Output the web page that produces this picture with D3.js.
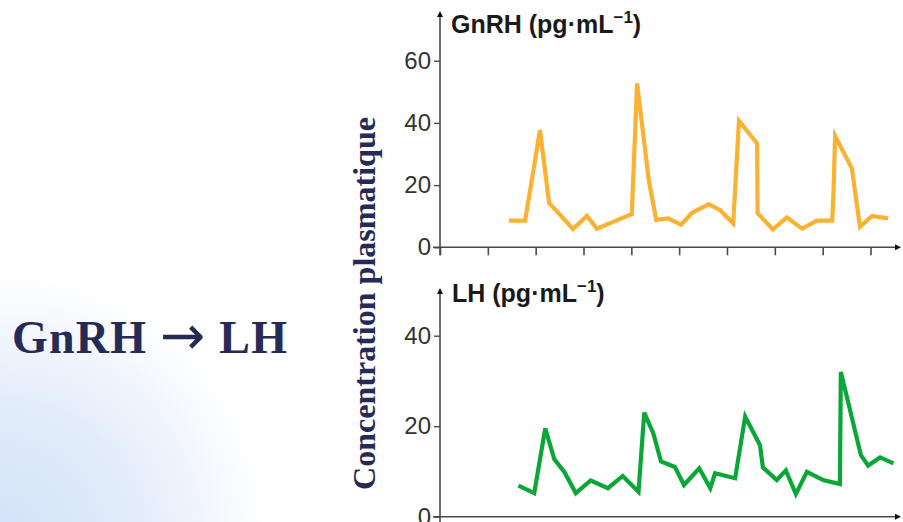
<!DOCTYPE html>
<html>
<head>
<meta charset="utf-8">
<script src="https://cdn.jsdelivr.net/npm/d3@7"></script>
<style>
  html, body { margin: 0; padding: 0; background: #fff; }
  svg { display: block; }
</style>
</head>
<body>
<svg id="chart" width="903" height="522"></svg>
<script>
// ---- data (time in x-tick units) ----
const xTicks = [0, 1, 2, 3, 4, 5, 6, 7, 8, 9];
const gnrhTicks = [0, 20, 40, 60];
const lhTicks = [0, 20, 40];

const gnrhTime = [1.44, 1.78, 2.09, 2.28, 2.78, 3.07, 3.28, 3.72, 4.01, 4.12, 4.37, 4.52, 4.77, 5.04, 5.27, 5.62, 5.85, 6.13, 6.25, 6.63, 6.64, 6.96, 7.25, 7.57, 7.88, 8.20, 8.23, 8.26, 8.61, 8.78, 9.03, 9.37];
const gnrhValues = [8.6, 8.6, 37.7, 14.3, 5.9, 10.1, 6.0, 8.8, 10.7, 52.7, 21.0, 8.8, 9.3, 7.3, 11.1, 13.9, 12.0, 7.7, 40.7, 33.4, 10.9, 5.8, 9.6, 6.0, 8.6, 8.6, 19.5, 35.8, 25.4, 6.6, 10.1, 9.3];

const lhTime = [1.64, 1.97, 2.20, 2.39, 2.60, 2.84, 3.15, 3.51, 3.82, 4.15, 4.27, 4.46, 4.62, 4.91, 5.10, 5.42, 5.65, 5.75, 6.17, 6.38, 6.69, 6.75, 7.04, 7.23, 7.44, 7.67, 8.01, 8.36, 8.38, 8.80, 8.95, 9.20, 9.48];
const lhValues = [6.85, 5.2, 19.5, 12.7, 9.9, 5.2, 8.0, 6.3, 9.0, 5.5, 23.0, 18.4, 12.2, 11.0, 7.0, 10.7, 6.3, 9.6, 8.5, 22.1, 15.8, 10.9, 8.1, 10.2, 5.0, 9.9, 8.1, 7.2, 32.0, 13.6, 11.3, 13.1, 11.8];

const svg = d3.select("#chart");

// background gradient bottom-left
const defs = svg.append("defs");
const rg = defs.append("radialGradient").attr("id", "bg")
  .attr("gradientUnits", "userSpaceOnUse")
  .attr("cx", 0).attr("cy", 540).attr("r", 270);
rg.append("stop").attr("offset", "0%").attr("stop-color", "#d2e2f8");
rg.append("stop").attr("offset", "50%").attr("stop-color", "#e2ecfa");
rg.append("stop").attr("offset", "100%").attr("stop-color", "#ffffff");
svg.append("rect").attr("width", 903).attr("height", 522).attr("fill", "#fff");
svg.append("rect").attr("width", 903).attr("height", 522).attr("fill", "url(#bg)");

defs.append("marker").attr("id", "arr")
  .attr("viewBox", "0 0 10 10").attr("refX", 0).attr("refY", 5)
  .attr("markerWidth", 7).attr("markerHeight", 6)
  .attr("markerUnits", "userSpaceOnUse")
  .attr("orient", "auto")
  .append("path").attr("d", "M0,0 L10,5 L0,10 Z").attr("fill", "#111");

// left texts
const lt = svg.append("text")
  .attr("x", 12).attr("y", 353)
  .attr("font-family", "Liberation Serif, Times New Roman, serif")
  .attr("font-weight", "bold").attr("font-size", 46)
  .attr("fill", "#262a56")
  .attr("textLength", 275).attr("lengthAdjust", "spacing");
lt.append("tspan").text("GnRH ");
lt.append("tspan")
  .attr("font-family", "DejaVu Sans, sans-serif")
  .attr("font-weight", "normal").attr("font-size", 54)
  .attr("dy", 1)
  .text("\u2192");
lt.append("tspan").attr("dy", -1).text(" LH");

svg.append("text")
  .attr("transform", "translate(375,303.5) rotate(-90)")
  .attr("text-anchor", "middle")
  .attr("font-family", "Liberation Serif, Times New Roman, serif")
  .attr("font-weight", "bold").attr("font-size", 31)
  .attr("fill", "#262a56")
  .attr("textLength", 373).attr("lengthAdjust", "spacingAndGlyphs")
  .text("Concentration plasmatique");

const x = d3.scaleLinear().domain([0, 9]).range([440, 870.5]);
const axisColor = "#4a4a4a";

function panel(opts) {
  const y = d3.scaleLinear().domain(opts.domain).range(opts.range);
  const g = svg.append("g");
  // y axis line with arrow
  g.append("line")
    .attr("x1", 440).attr("x2", 440)
    .attr("y1", opts.range[0] + (opts.below || 0)).attr("y2", opts.axisTop + 7)
    .attr("stroke", axisColor).attr("stroke-width", 1.6)
    .attr("marker-end", "url(#arr)");
  // x axis line with arrow
  g.append("line")
    .attr("x1", 433).attr("x2", 895)
    .attr("y1", opts.range[0]).attr("y2", opts.range[0])
    .attr("stroke", axisColor).attr("stroke-width", 1.6)
    .attr("marker-end", "url(#arr)");
  // y ticks
  const ya = d3.axisLeft(y).tickValues(opts.ticks).tickSize(6).tickPadding(3);
  const yg = g.append("g").attr("transform", "translate(440,0)").call(ya);
  yg.select(".domain").remove();
  yg.selectAll(".tick line").attr("stroke", axisColor).attr("stroke-width", 1.4);
  yg.selectAll(".tick text")
    .attr("font-family", "Liberation Sans, Arial, sans-serif")
    .attr("font-size", 24).attr("fill", "#333");
  // x ticks
  if (opts.xticks) {
    const xa = d3.axisBottom(x).tickValues(xTicks).tickSize(8).tickFormat("");
    const xg = g.append("g").attr("transform", `translate(0,${opts.range[0]})`).call(xa);
    xg.select(".domain").remove();
    xg.selectAll(".tick line").attr("stroke", axisColor).attr("stroke-width", 1.6);
  }
  // title
  const t = g.append("text")
    .attr("x", opts.titleX).attr("y", opts.titleY)
    .attr("font-family", "Liberation Sans, Arial, sans-serif")
    .attr("font-weight", "bold").attr("font-size", 25)
    .attr("fill", "#1a1a1a");
  t.append("tspan").text(opts.title + " (pg\u00B7mL");
  t.append("tspan").attr("dy", -10).attr("font-size", 17).text("\u22121");
  t.append("tspan").attr("dy", 10).text(")");
  // line
  const line = d3.line().x(d => x(d[0])).y(d => y(d[1]));
  g.append("path")
    .datum(d3.zip(opts.time, opts.values))
    .attr("d", line)
    .attr("fill", "none")
    .attr("stroke", opts.color)
    .attr("stroke-width", 4.2)
    .attr("stroke-linejoin", "miter")
    .attr("stroke-miterlimit", 4);
}

panel({
  domain: [0, 60], range: [247.3, 60.7], ticks: gnrhTicks, axisTop: 10,
  below: 8, xticks: true, title: "GnRH", titleX: 451, titleY: 33,
  time: gnrhTime, values: gnrhValues, color: "#fbb131"
});
panel({
  domain: [0, 40], range: [516.7, 335.7], ticks: lhTicks, axisTop: 287,
  below: 8, xticks: false, title: "LH", titleX: 452, titleY: 302,
  time: lhTime, values: lhValues, color: "#0ba638"
});
</script>
</body>
</html>
